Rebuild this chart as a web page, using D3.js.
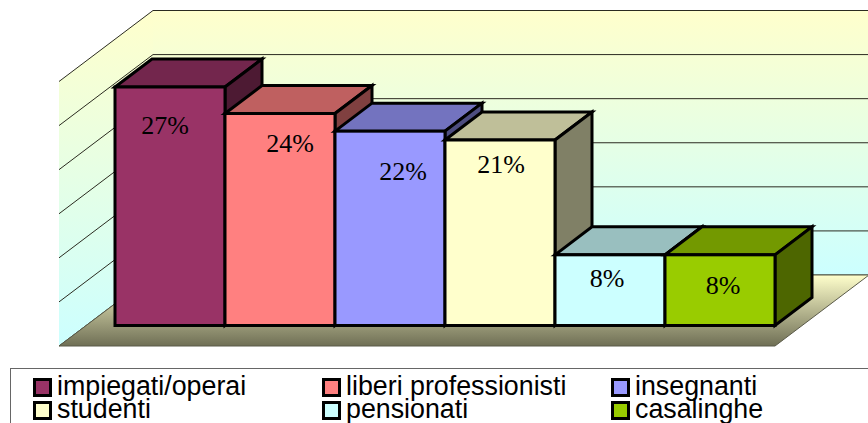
<!DOCTYPE html>
<html>
<head>
<meta charset="utf-8">
<script src="https://cdn.jsdelivr.net/npm/d3@7"></script>
<style>
    html, body { margin: 0; padding: 0; background: #fff; overflow: hidden; }
    svg { display: block; }
    .label { font-family: "Liberation Serif", serif; font-size: 26px; fill: #000; text-anchor: middle; }
    .legendText { font-family: "Liberation Sans", sans-serif; font-size: 26.8px; fill: #000; }
</style>
</head>
<body>
<div id="chart1"></div>
<script>

var categories = ["impiegati/operai", "liberi professionisti", "insegnanti", "studenti", "pensionati", "casalinghe"];
var values = [27, 24, 22, 21, 8, 8];
var colors = ["#993366", "#ff8080", "#9999ff", "#ffffcc", "#ccffff", "#99cc00"];
var gridTicks = [0, 5, 10, 15, 20, 25, 30];

var width = 868;
var height = 423;

var svg = d3.select("#chart1")
    .append("svg")
    .attr("width", width)
    .attr("height", height);

// the depth of the walls and of the bars, as seen in the picture
var floorDx = 94, floorDy = 71;
var barDx = 37, barDy = 28;

var xScale = d3.scaleBand().domain(categories).range([115, 775]);
var yBar = d3.scaleLinear().domain([0, 30]).range([325.5, 60.5]);
var yWall = d3.scaleLinear().domain([0, 30]).range([275, 10.5]);

var defs = svg.append("defs");

function gradient(id, stops, y1, y2) {
    var g = defs.append("linearGradient")
        .attr("id", id)
        .attr("gradientUnits", "userSpaceOnUse")
        .attr("x1", 0).attr("x2", 0)
        .attr("y1", y1).attr("y2", y2);
    stops.forEach(function(s, i) {
        g.append("stop").attr("offset", i / (stops.length - 1)).attr("stop-color", s);
    });
}

gradient("wallBack", ["#ffffcc", "#ccffff"], yWall(30), yWall(0));
gradient("wallSide", ["#ffffcc", "#ccffff"], yWall(30), yWall(0) + floorDy);
gradient("floorFill", ["#ffffcc", "#6f6f55"], yWall(0), yWall(0) + floorDy);

var frontLeft = 59;
var backLeft = frontLeft + floorDx;
var frontRight = 775;
var wallBottom = yWall(0);
var wallTop = yWall(30);

// back wall and left wall
svg.append("rect")
    .attr("x", backLeft)
    .attr("y", wallTop)
    .attr("width", width - backLeft)
    .attr("height", wallBottom - wallTop)
    .attr("fill", "url(#wallBack)");

svg.append("polygon")
    .attr("points", [
        [frontLeft, wallTop + floorDy],
        [backLeft, wallTop],
        [backLeft, wallBottom],
        [frontLeft, wallBottom + floorDy]
    ].join(" "))
    .attr("fill", "url(#wallSide)");

// gridlines go along the left wall and then along the back wall
svg.selectAll(".grid")
    .data(gridTicks)
    .enter()
    .append("path")
    .attr("class", "grid")
    .attr("fill", "none")
    .attr("stroke", "#2b2b20")
    .attr("stroke-width", 1)
    .attr("d", function(d) {
        return "M" + frontLeft + "," + (yWall(d) + floorDy) +
            "L" + backLeft + "," + yWall(d) +
            "L" + width + "," + yWall(d);
    });

// floor
svg.append("polygon")
    .attr("points", [
        [frontLeft, wallBottom + floorDy],
        [frontRight, wallBottom + floorDy],
        [frontRight + floorDx, wallBottom],
        [backLeft, wallBottom]
    ].join(" "))
    .attr("fill", "url(#floorFill)")
    .attr("stroke", "#5a5a48")
    .attr("stroke-width", 1);

function shade(color, k) {
    var c = d3.rgb(color);
    return d3.rgb(c.r * k, c.g * k, c.b * k).formatHex();
}

// label places were set by hand in the original chart
var labelDx = [-5, 10, 13, 1, -3, 3];
var labelDy = [47, 38, 49, 33, 32, 39];

var bars = svg.selectAll(".bar")
    .data(values)
    .enter()
    .append("g")
    .attr("class", "bar")
    .attr("stroke", "#000")
    .attr("stroke-width", 3)
    .attr("stroke-linejoin", "miter");

bars.append("polygon")
    .attr("points", function(d, i) {
        var x0 = xScale(categories[i]), x1 = x0 + xScale.bandwidth(), y1 = yBar(d);
        return [[x0, y1], [x0 + barDx, y1 - barDy], [x1 + barDx, y1 - barDy], [x1, y1]].join(" ");
    })
    .attr("fill", function(d, i) { return shade(colors[i], 0.75); });

bars.append("polygon")
    .attr("points", function(d, i) {
        var x1 = xScale(categories[i]) + xScale.bandwidth(), y1 = yBar(d), y0 = yBar(0);
        return [[x1, y1], [x1 + barDx, y1 - barDy], [x1 + barDx, y0 - barDy], [x1, y0]].join(" ");
    })
    .attr("fill", function(d, i) { return shade(colors[i], 0.5); });

bars.append("rect")
    .attr("x", function(d, i) { return xScale(categories[i]); })
    .attr("y", function(d) { return yBar(d); })
    .attr("width", xScale.bandwidth())
    .attr("height", function(d) { return yBar(0) - yBar(d); })
    .attr("fill", function(d, i) { return colors[i]; });

svg.selectAll(".label")
    .data(values)
    .enter()
    .append("text")
    .attr("class", "label")
    .attr("x", function(d, i) { return xScale(categories[i]) + xScale.bandwidth() / 2 + labelDx[i]; })
    .attr("y", function(d, i) { return yBar(d) + labelDy[i]; })
    .text(function(d) { return d + "%"; });

// legend, cut off by the bottom and right side of the picture
svg.append("rect")
    .attr("x", 10.5)
    .attr("y", 368.5)
    .attr("width", width)
    .attr("height", 100)
    .attr("fill", "#fff")
    .attr("stroke", "#666")
    .attr("stroke-width", 1);

var legendCols = [33, 322, 611];
var legendRows = [378, 401];

var legend = svg.selectAll(".legendItem")
    .data(categories)
    .enter()
    .append("g")
    .attr("class", "legendItem")
    .attr("transform", function(d, i) {
        return "translate(" + legendCols[i % 3] + "," + legendRows[Math.floor(i / 3)] + ")";
    });

legend.append("rect")
    .attr("x", 1.5)
    .attr("y", 1.5)
    .attr("width", 16)
    .attr("height", 16)
    .attr("fill", function(d, i) { return colors[i]; })
    .attr("stroke", "#000")
    .attr("stroke-width", 3);

legend.append("text")
    .attr("class", "legendText")
    .attr("x", 24)
    .attr("y", 17)
    .text(function(d) { return d; });

</script>
</body>
</html>
